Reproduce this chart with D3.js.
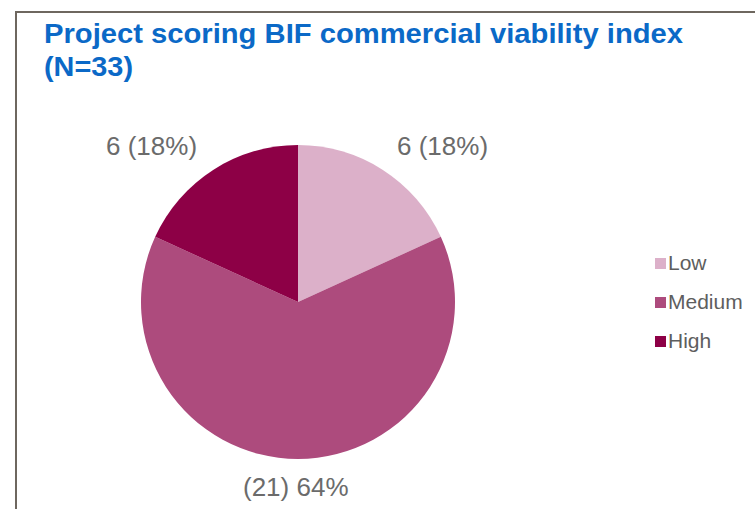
<!DOCTYPE html>
<html><head><meta charset="utf-8">
<script src="https://cdn.jsdelivr.net/npm/d3@7"></script>
<style>body{margin:0;background:#fff;} svg{display:block;}</style>
</head><body>
<script>
const categories = ["Low", "Medium", "High"];
const values = [6, 21, 6];
const labels = ["6 (18%)", "(21) 64%", "6 (18%)"];
const colors = ["#dcb0c9", "#ad4b7d", "#8d0046"];
const titleLines = ["Project scoring BIF commercial viability index", "(N=33)"];

const W = 755, H = 509;
const svg = d3.select("body").append("svg").attr("width", W).attr("height", H);

// frame
svg.append("path").attr("d", `M16,${H} L16,12 L${W},12`).attr("fill","none")
  .attr("stroke","#6e675f").attr("stroke-width",2);

// title
const title = svg.append("g").attr("font-family","Liberation Sans, Arial, sans-serif")
  .attr("font-weight","bold").attr("font-size",27).attr("fill","#0b69c7");
title.append("text").attr("x",44).attr("y",43).text(titleLines[0])
  .attr("textLength",639).attr("lengthAdjust","spacingAndGlyphs");
title.append("text").attr("x",44).attr("y",76).text(titleLines[1])
  .attr("textLength",89).attr("lengthAdjust","spacingAndGlyphs");

const cx = 298, cy = 302, r = 157;
const pie = d3.pie().sort(null).value(d => d)(values);
const arc = d3.arc().innerRadius(0).outerRadius(r);
const g = svg.append("g").attr("transform",`translate(${cx},${cy})`);
g.selectAll("path").data(pie).join("path")
  .attr("d", arc).attr("fill", (d,i) => colors[i]);

// labels outside
const lg = svg.append("g").attr("font-family","Liberation Sans, Arial, sans-serif")
  .attr("font-size",26).attr("fill","#6b6b6b");
pie.forEach((d,i) => {
  let x, y;
  if (i === 0) { x = cx + 99; y = cy - r + 10; }
  else if (i === 1) { x = cx - 55; y = cy + r + 37; }
  else { x = cx - 192; y = cy - r + 10; }
  lg.append("text").attr("x", x).attr("y", y).text(labels[i]);
});

// legend
const leg = svg.append("g").attr("font-family","Liberation Sans, Arial, sans-serif")
  .attr("font-size",21).attr("fill","#5e5e5e");
categories.forEach((c,i) => {
  const y = 263 + i*39;
  leg.append("rect").attr("x",655).attr("y",y-5).attr("width",11).attr("height",11).attr("fill",colors[i]);
  leg.append("text").attr("x",668).attr("y",y+7).text(c);
});
</script>
</body></html>
